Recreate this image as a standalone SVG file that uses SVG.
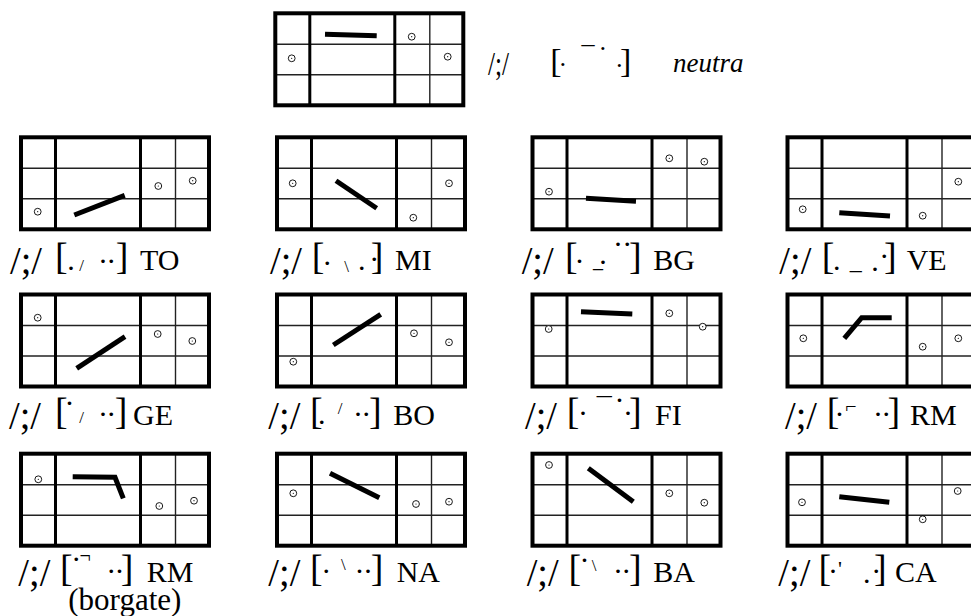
<svg xmlns="http://www.w3.org/2000/svg" width="971" height="616" viewBox="0 0 971 616">
<style>
.fr{fill:none;stroke:#000;stroke-width:4}
.tk{stroke:#000;stroke-width:3}
.tn{stroke:#222;stroke-width:1.4}
.bar{fill:none;stroke:#000;stroke-width:5;stroke-linejoin:miter}
.c{fill:#fff;stroke:#000;stroke-width:0.9}
.cd{fill:#000}
.f{font-family:"Liberation Serif","Times New Roman",serif;fill:#000}
.sl{font-size:40px}
.br{font-size:38px}
.dt{font-size:30px}
.tc{font-size:17px}
.sm{font-size:20px}
.sc{font-size:30px}
.tsl{font-size:34px}
.tdt{font-size:26px}
.it{font-size:27px;font-style:italic}
.bg{font-size:31px}
</style>
<defs>
<g id="grid">
<line x1="0" y1="31" x2="188" y2="31" class="tn"/>
<line x1="0" y1="61.5" x2="188" y2="61.5" class="tn"/>
<line x1="154.5" y1="0" x2="154.5" y2="92" class="tn"/>
<line x1="34.5" y1="0" x2="34.5" y2="92" class="tk"/>
<line x1="119.5" y1="0" x2="119.5" y2="92" class="tk"/>
<rect x="0" y="0" width="188" height="92" class="fr"/>
</g>
<g id="o"><circle r="3.4" class="c"/><circle r="0.6" class="cd"/></g>
</defs>
<rect width="971" height="616" fill="#fff"/>

<g id="neutra">
<use href="#grid" x="275.3" y="13.3"/>
<line x1="325" y1="34.2" x2="376.7" y2="35.8" class="bar"/>
<use href="#o" x="411.7" y="36.7"/><use href="#o" x="291.7" y="58.3"/><use href="#o" x="447.7" y="56.7"/>
<text class="f tsl" x="488" y="75" textLength="21" lengthAdjust="spacingAndGlyphs">/;/</text>
<text class="f"><tspan class="tsl" x="550.3" y="72">[</tspan><tspan class="tdt" x="558.45" y="73.3">·</tspan><tspan class="tdt" x="581.47" y="64.2">¯</tspan><tspan class="tdt" x="598.45" y="56.6">·</tspan><tspan class="tdt" x="615.05" y="73.6">·</tspan><tspan class="tsl" x="620" y="72">]</tspan></text>
<text class="f it" x="673" y="72">neutra</text>
</g>

<g id="to">
<use href="#grid" x="21" y="137.3"/>
<line x1="74.3" y1="215" x2="124.7" y2="195.3" class="bar"/>
<use href="#o" x="37.7" y="211.7"/><use href="#o" x="158.3" y="186"/><use href="#o" x="192.7" y="180.7"/>
<text class="f sl" x="10" y="274" textLength="32" lengthAdjust="spacingAndGlyphs">/;/</text>
<text class="f"><tspan class="br" x="55" y="269">[</tspan><tspan class="dt" x="67.25" y="270">.</tspan><tspan class="tc" x="79.35" y="270.6">/</tspan><tspan class="dt" x="97.95" y="270.9">·</tspan><tspan class="dt" x="106.25" y="270.9">·</tspan><tspan class="br" x="115.7" y="269">]</tspan></text>
<text class="f sc" x="140" y="270">TO</text>
</g>

<g id="mi">
<use href="#grid" x="277" y="137.3"/>
<line x1="336" y1="180.7" x2="376.7" y2="208.3" class="bar"/>
<use href="#o" x="292.7" y="183.3"/><use href="#o" x="449" y="183.3"/><use href="#o" x="413.3" y="217.7"/>
<text class="f sl" x="270" y="274" textLength="32" lengthAdjust="spacingAndGlyphs">/;/</text>
<text class="f"><tspan class="br" x="311.7" y="269">[</tspan><tspan class="dt" x="322.25" y="272.6">·</tspan><tspan class="tc" x="344.35" y="272.1">\</tspan><tspan class="dt" x="357.95" y="270">.</tspan><tspan class="dt" x="369.2" y="269.3">·</tspan><tspan class="br" x="370.7" y="269">]</tspan></text>
<text class="f sc" x="395" y="270">MI</text>
</g>

<g id="bg">
<use href="#grid" x="532.5" y="137.3"/>
<line x1="586" y1="198.3" x2="636" y2="201.3" class="bar"/>
<use href="#o" x="549" y="191.7"/><use href="#o" x="669.3" y="158.3"/><use href="#o" x="704.3" y="161.7"/>
<text class="f sl" x="521.7" y="274" textLength="32" lengthAdjust="spacingAndGlyphs">/;/</text>
<text class="f"><tspan class="br" x="565" y="269">[</tspan><tspan class="dt" x="574.55" y="270.9">·</tspan><tspan class="dt" x="597.95" y="271.6">·</tspan><tspan class="sm" x="593" y="267">_</tspan><tspan class="dt" x="612.95" y="253.6">·</tspan><tspan class="dt" x="622.25" y="253.6">·</tspan><tspan class="br" x="629" y="269">]</tspan></text>
<text class="f sc" x="653.3" y="270">BG</text>
</g>

<g id="ve">
<use href="#grid" x="787.5" y="137.3"/>
<line x1="839.3" y1="212.7" x2="890" y2="216" class="bar"/>
<use href="#o" x="802.7" y="209.3"/><use href="#o" x="922.7" y="215.7"/><use href="#o" x="958.3" y="181.7"/>
<text class="f sl" x="779.3" y="274" textLength="32" lengthAdjust="spacingAndGlyphs">/;/</text>
<text class="f"><tspan class="br" x="821.7" y="269">[</tspan><tspan class="dt" x="832.95" y="270">.</tspan><tspan style="font-size:24px" x="849.8" y="269.3">_</tspan><tspan class="dt" x="871.25" y="270.5">.</tspan><tspan class="dt" x="879.2" y="265.9">·</tspan><tspan class="br" x="884" y="269">]</tspan></text>
<text class="f sc" x="906.7" y="270">VE</text>
</g>

<g id="ge">
<use href="#grid" x="21" y="294.5"/>
<line x1="76.7" y1="368.3" x2="125" y2="336.7" class="bar"/>
<use href="#o" x="37.7" y="317.7"/><use href="#o" x="157.7" y="334"/><use href="#o" x="192.3" y="341"/>
<text class="f sl" x="9" y="429" textLength="32" lengthAdjust="spacingAndGlyphs">/;/</text>
<text class="f"><tspan class="br" x="55" y="424">[</tspan><tspan class="dt" x="64.55" y="412.6">·</tspan><tspan class="tc" x="79.35" y="423.1">/</tspan><tspan class="dt" x="97.95" y="424.3">·</tspan><tspan class="dt" x="106.25" y="424.3">·</tspan><tspan class="br" x="114.7" y="424">]</tspan></text>
<text class="f sc" x="133" y="425">GE</text>
</g>

<g id="bo">
<use href="#grid" x="277" y="294.5"/>
<line x1="333.3" y1="345" x2="380.7" y2="314.3" class="bar"/>
<use href="#o" x="293.3" y="361.7"/><use href="#o" x="414" y="333.3"/><use href="#o" x="449" y="342.3"/>
<text class="f sl" x="268.3" y="429" textLength="32" lengthAdjust="spacingAndGlyphs">/;/</text>
<text class="f"><tspan class="br" x="310" y="424">[</tspan><tspan class="dt" x="317.95" y="424">.</tspan><tspan class="tc" x="337.65" y="413.9">/</tspan><tspan class="dt" x="352.95" y="424.3">·</tspan><tspan class="dt" x="361.25" y="424.3">·</tspan><tspan class="br" x="369" y="424">]</tspan></text>
<text class="f sc" x="393.3" y="425">BO</text>
</g>

<g id="fi">
<use href="#grid" x="532.5" y="294.5"/>
<line x1="581" y1="311.7" x2="632.3" y2="314" class="bar"/>
<use href="#o" x="548.7" y="329"/><use href="#o" x="669.3" y="313.3"/><use href="#o" x="702.7" y="326.7"/>
<text class="f sl" x="525" y="429" textLength="32" lengthAdjust="spacingAndGlyphs">/;/</text>
<text class="f"><tspan class="br" x="566.7" y="424">[</tspan><tspan class="dt" x="577.95" y="422.6">·</tspan><tspan class="dt" x="596.7" y="418.2">¯</tspan><tspan class="dt" x="614.55" y="410.3">·</tspan><tspan class="dt" x="622.95" y="422.6">·</tspan><tspan class="br" x="629" y="424">]</tspan></text>
<text class="f sc" x="655" y="425">FI</text>
</g>

<g id="rm">
<use href="#grid" x="787.5" y="294.5"/>
<polyline points="844.3,338.3 861.7,317.7 891.7,317.7" class="bar"/>
<use href="#o" x="803.3" y="338.3"/><use href="#o" x="922.7" y="346.7"/><use href="#o" x="958.3" y="338.3"/>
<text class="f sl" x="785" y="429" textLength="32" lengthAdjust="spacingAndGlyphs">/;/</text>
<text class="f"><tspan class="br" x="826.7" y="424">[</tspan><tspan class="dt" x="834.55" y="424.3">·</tspan><tspan class="sm" x="845.2" y="412.7">⌐</tspan><tspan class="dt" x="872.95" y="424.3">·</tspan><tspan class="dt" x="881.25" y="424.3">·</tspan><tspan class="br" x="887.4" y="424">]</tspan></text>
<text class="f sc" x="910" y="425">RM</text>
</g>

<g id="rm-borgate">
<use href="#grid" x="21" y="453.7"/>
<polyline points="72.7,476.7 115,477.3 123.3,498.3" class="bar"/>
<use href="#o" x="38.3" y="479.3"/><use href="#o" x="159.3" y="506"/><use href="#o" x="194" y="500.7"/>
<text class="f sl" x="18.3" y="586" textLength="32" lengthAdjust="spacingAndGlyphs">/;/</text>
<text class="f"><tspan class="br" x="60" y="581">[</tspan><tspan class="dt" x="71.25" y="569.3">·</tspan><tspan class="sm" x="79.4" y="563.2">¬</tspan><tspan class="dt" x="106.25" y="580.9">·</tspan><tspan class="dt" x="114.55" y="580.9">·</tspan><tspan class="br" x="120.7" y="581">]</tspan></text>
<text class="f sc" x="146.7" y="582">RM</text>
<text class="f bg" x="68.3" y="610">(borgate)</text>
</g>

<g id="na">
<use href="#grid" x="277" y="453.7"/>
<line x1="330" y1="473.3" x2="379.3" y2="497.7" class="bar"/>
<use href="#o" x="293.3" y="493.3"/><use href="#o" x="416" y="504"/><use href="#o" x="449" y="501.7"/>
<text class="f sl" x="268.3" y="586" textLength="32" lengthAdjust="spacingAndGlyphs">/;/</text>
<text class="f"><tspan class="br" x="310" y="581">[</tspan><tspan class="dt" x="321.25" y="580.9">·</tspan><tspan class="tc" x="340.95" y="569.8">\</tspan><tspan class="dt" x="354.55" y="580.9">·</tspan><tspan class="dt" x="362.95" y="580.9">·</tspan><tspan class="br" x="370.7" y="581">]</tspan></text>
<text class="f sc" x="396.7" y="582">NA</text>
</g>

<g id="ba">
<use href="#grid" x="532.5" y="453.7"/>
<line x1="588.3" y1="468.3" x2="633.3" y2="501.7" class="bar"/>
<use href="#o" x="549" y="465"/><use href="#o" x="669.3" y="493.3"/><use href="#o" x="704.3" y="502.7"/>
<text class="f sl" x="526.7" y="586" textLength="32" lengthAdjust="spacingAndGlyphs">/;/</text>
<text class="f"><tspan class="br" x="568.4" y="581">[</tspan><tspan class="dt" x="579.55" y="570.3">·</tspan><tspan class="tc" x="591.85" y="570.6">\</tspan><tspan class="dt" x="612.95" y="580.9">·</tspan><tspan class="dt" x="621.25" y="580.9">·</tspan><tspan class="br" x="629" y="581">]</tspan></text>
<text class="f sc" x="653.3" y="582">BA</text>
</g>

<g id="ca">
<use href="#grid" x="787.5" y="453.7"/>
<line x1="839.3" y1="496.7" x2="889.3" y2="502.3" class="bar"/>
<use href="#o" x="802" y="502.3"/><use href="#o" x="922.7" y="519.3"/><use href="#o" x="957.7" y="491"/>
<text class="f sl" x="778.3" y="586" textLength="32" lengthAdjust="spacingAndGlyphs">/;/</text>
<text class="f"><tspan class="br" x="818.4" y="581">[</tspan><tspan class="dt" x="827.95" y="580.9">·</tspan><tspan style="font-size:22px" x="838" y="576.2">'</tspan><tspan class="dt" x="862.95" y="583">.</tspan><tspan class="dt" x="871.25" y="580.9">·</tspan><tspan class="br" x="874" y="581">]</tspan></text>
<text class="f sc" x="895" y="582">CA</text>
</g>
</svg>
